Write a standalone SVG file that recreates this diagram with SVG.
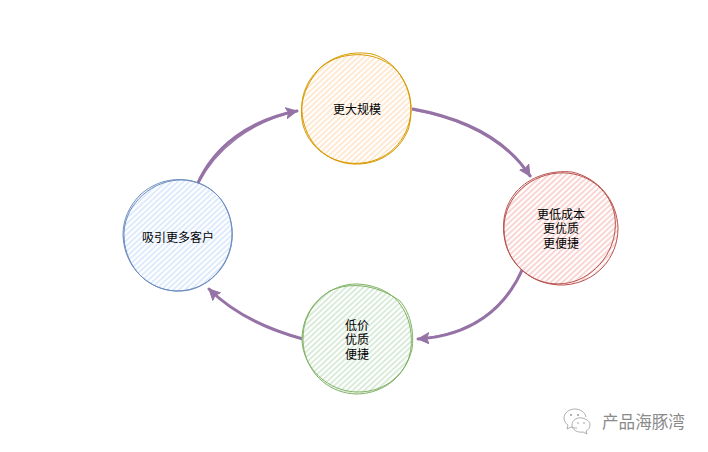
<svg xmlns="http://www.w3.org/2000/svg" width="708" height="452" viewBox="0 0 708 452">
<style>
text{font-family:"Noto Sans CJK SC","Noto Sans",sans-serif;font-size:12px;fill:#000;text-anchor:middle;dominant-baseline:central}
.o{fill:none;stroke-width:1;stroke-linecap:round}
.c{fill:none;stroke:#9673a6;stroke-width:3;stroke-linecap:round}
.t{fill:none;stroke:#9673a6;stroke-width:1.5;stroke-linecap:round}
.h{stroke-width:1}
.y{stroke:#d79b00}.r{stroke:#b85450}.g{stroke:#82b366}.b{stroke:#6c8ebf}
.wm{font-size:16.6px;fill:#8a8a8a;text-anchor:start}
</style>
<defs>
<pattern id="py" width="4" height="4" patternUnits="userSpaceOnUse" patternTransform="rotate(-43)"><rect width="4" height="4" fill="#fff"/><line x1="0" y1="2" x2="4" y2="2" stroke="#ffe6cc" stroke-width="1.7"/></pattern>
<pattern id="pr" width="4" height="4" patternUnits="userSpaceOnUse" patternTransform="rotate(-43)"><rect width="4" height="4" fill="#fff"/><line x1="0" y1="2" x2="4" y2="2" stroke="#f8cecc" stroke-width="1.7"/></pattern>
<pattern id="pg" width="4" height="4" patternUnits="userSpaceOnUse" patternTransform="rotate(-43)"><rect width="4" height="4" fill="#fff"/><line x1="0" y1="2" x2="4" y2="2" stroke="#d5e8d4" stroke-width="1.7"/></pattern>
<pattern id="pb" width="4" height="4" patternUnits="userSpaceOnUse" patternTransform="rotate(-43)"><rect width="4" height="4" fill="#fff"/><line x1="0" y1="2" x2="4" y2="2" stroke="#dae8fc" stroke-width="1.7"/></pattern>
<marker id="ah" markerUnits="userSpaceOnUse" markerWidth="14" markerHeight="14" refX="11" refY="6" orient="auto"><path d="M0 0.5L11 6L0 11.5L2.5 6Z" fill="#9673a6" stroke="#9673a6"/></marker>
</defs>
<g id="connectors">
<path class="c" d="M197 185C214 146 250 120 297 111" marker-end="url(#ah)"/>
<path class="t" d="M198 184C216 149 250 122 297 111"/>
<path class="c" d="M413 109C462 118 505 137 530 176" marker-end="url(#ah)"/>
<path class="t" d="M413 110C464 119 504 140 531 176"/>
<path class="c" d="M523 268C505 310 470 336 418 339" marker-end="url(#ah)"/>
<path class="t" d="M522 270C503 312 468 334 418 339"/>
<path class="c" d="M303 339C266 329 234 314 209 289" marker-end="url(#ah)"/>
</g>
<g id="node-scale">
<path d="M301 110C302 78 328 54 358 54C390 55 412 80 412 110C411 140 386 165 356 165C325 165 301 141 301 110Z" fill="url(#py)"/>
<path class="o y" d="M302 113C299 83 322 57 352 55C370 53 392 60 402 78C412 94 413 115 408 130C399 152 378 165 354 164C328 163 305 144 302 113Z"/>
<path class="o y" d="M320 68C335 54 355 51 372 54C395 60 411 85 411 108C411 135 392 160 362 163C335 166 310 150 303 125C298 105 305 85 320 68Z"/>
<text x="357" y="108">更大规模</text>
</g>
<g id="node-cost">
<path d="M503 228C504 197 530 172 562 172C594 172 618 198 618 229C617 260 592 285 560 285C529 285 503 259 503 228Z" fill="url(#pr)"/>
<path class="o r" d="M504 232C502 202 525 176 558 173C585 171 608 188 614 212C620 238 606 268 578 280C552 290 526 280 512 258C507 250 505 242 504 232Z"/>
<path class="o r" d="M516 192C530 176 552 170 572 172C598 178 617 200 618 228C618 258 596 283 564 285C532 286 507 264 504 235C502 218 506 204 516 192Z"/>
<text x="561" y="213">更低成本</text>
<text x="561" y="227.5">更优质</text>
<text x="561" y="242">更便捷</text>
</g>
<g id="node-low">
<path d="M302 337C303 307 328 284 358 284C390 285 413 310 413 339C412 370 387 394 357 394C327 394 302 368 302 337Z" fill="url(#pg)"/>
<path class="o g" d="M303 336C304 306 330 283 358 284C376 285 394 293 402 307C412 322 414 345 408 360C399 382 378 394 356 394C330 393 310 376 304 350C303 345 303 341 303 336Z"/>
<path class="o g" d="M330 291C350 281 378 285 400 301C412 315 414 335 412 349C406 375 385 392 358 392C328 392 303 368 302 340C302 318 313 301 330 291Z"/>
<text x="357" y="324">低价</text>
<text x="357" y="338.5">优质</text>
<text x="357" y="353">便捷</text>
</g>
<g id="node-customers">
<path d="M123 235C124 205 149 180 179 180C210 180 233 206 233 236C232 266 208 291 178 291C148 291 123 265 123 235Z" fill="url(#pb)"/>
<path class="o b" d="M124 238C122 208 148 182 178 180C198 179 218 190 226 208C236 228 234 252 220 270C208 285 192 291 176 291C148 290 126 268 124 238Z"/>
<path class="o b" d="M140 195C155 181 175 177 192 181C218 187 233 210 232 236C231 266 206 291 180 291C150 292 124 268 123 235C123 220 129 206 140 195Z"/>
<text x="178" y="236">吸引更多客户</text>
</g>
<g id="watermark">
<path d="M586 417C585 412 580 409 575 409C569 409 564 413 564 418C564 421 566 424 568 425L567 429L571 427C573 428 575 428 577 428" fill="none" stroke="#9a9a9a" stroke-width="0.8"/>
<path d="M578 418C583 417 590 420 590 425C590 428 588 430 586 431L587 434L583 432C578 433 572 430 572 425C572 421 575 419 578 418Z" fill="none" stroke="#9a9a9a" stroke-width="0.8"/>
<circle cx="571" cy="415" r="1" fill="#9a9a9a"/><circle cx="578" cy="415" r="1" fill="#9a9a9a"/>
<circle cx="578" cy="423" r="0.8" fill="#9a9a9a"/><circle cx="584" cy="423" r="0.8" fill="#9a9a9a"/>
<text class="wm" x="602" y="421">产品海豚湾</text>
</g>
</svg>
